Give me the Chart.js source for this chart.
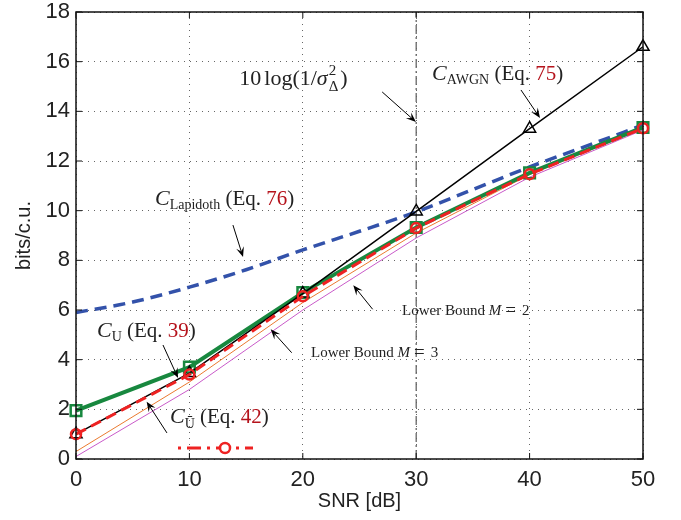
<!DOCTYPE html>
<html>
<head>
<meta charset="utf-8">
<script src="https://cdn.jsdelivr.net/npm/chart.js@4.4.0/dist/chart.umd.min.js"></script>
<style>
html, body { margin: 0; padding: 0; background: #fff; }
canvas { display: block; }
</style>
</head>
<body>
<canvas id="snrChart" width="681" height="520"></canvas>
<script>
// values
var snr = [0, 10, 20, 30, 40, 50];
var awgn = [1.0, 3.46, 6.66, 9.97, 13.3, 16.6];
var capU = [1.95, 3.7, 6.7, 9.32, 11.52, 13.35];
var capUbar = [1.0, 3.4, 6.55, 9.3, 11.47, 13.32];
var lowerM3 = [0.3, 3.1, 6.3, 9.1, 11.45, 13.3];
var lowerM2 = [0.1, 2.8, 6.0, 8.9, 11.35, 13.25];
var snrFine = [0, 5, 10, 15, 20, 25, 30, 35, 40, 45, 50];
var lapidoth = [5.9, 6.32, 6.92, 7.62, 8.42, 9.17, 9.95, 10.85, 11.76, 12.6, 13.45];
var markSnr = 30;
var xTicks = [0, 10, 20, 30, 40, 50];
var yTicks = [0, 2, 4, 6, 8, 10, 12, 14, 16, 18];

var SERIF = "'Liberation Serif', 'Times New Roman', serif";
var SANS = "'Liberation Sans', Arial, Helvetica, sans-serif";
var EQ = "#b5121b";

function pts(xs, ys) {
	return xs.map(function (x, i) { return { x: x, y: ys[i] }; });
}

// text labels with arrows, placed in data units
var notes = [
	{ at: [14.4, 15.05], from: [27.0, 14.78], to: [29.98, 13.57],
		parts: [{ t: "10", s: 22 }, { t: "log(1/", s: 22, pre: 3 }, { t: "σ", s: 22, i: 1 }, { t: "2", s: 15, dy: -10, pre: 1 }, { t: "Δ", s: 15, dy: 6, under: 1 }, { t: ")", s: 22, pre: 2 }] },
	{ at: [31.4, 15.26], from: [39.24, 14.86], to: [40.92, 13.73],
		parts: [{ t: "C", s: 22, i: 1 }, { t: "AWGN", s: 14, dy: 4 }, { t: " (Eq. ", s: 21 }, { t: "75", s: 21, c: EQ }, { t: ")", s: 21 }] },
	{ at: [6.97, 10.23], from: [13.84, 9.42], to: [14.73, 8.13],
		parts: [{ t: "C", s: 22, i: 1 }, { t: "Lapidoth", s: 14, dy: 4 }, { t: " (Eq. ", s: 21 }, { t: "76", s: 21, c: EQ }, { t: ")", s: 21 }] },
	{ at: [1.85, 4.91], from: [7.67, 4.59], to: [9.0, 3.26],
		parts: [{ t: "C", s: 22, i: 1 }, { t: "U", s: 14, dy: 4 }, { t: " (Eq. ", s: 21 }, { t: "39", s: 21, c: EQ }, { t: ")", s: 21 }] },
	{ at: [8.29, 1.45], from: [8.02, 1.05], to: [6.23, 2.31], sample: true,
		parts: [{ t: "C", s: 22, i: 1 }, { t: "Ū", s: 14, dy: 5 }, { t: " (Eq. ", s: 21 }, { t: "42", s: 21, c: EQ }, { t: ")", s: 21 }] },
	{ at: [28.75, 5.8], from: [26.16, 6.03], to: [24.45, 7.0],
		parts: [{ t: "Lower Bound ", s: 15 }, { t: "M", s: 15, i: 1 }, { t: "=", s: 19, pre: 4, dy: 1 }, { t: "2", s: 15, pre: 6 }] },
	{ at: [20.72, 4.11], from: [19.02, 4.28], to: [17.17, 5.22],
		parts: [{ t: "Lower Bound ", s: 15 }, { t: "M", s: 15, i: 1 }, { t: "=", s: 19, pre: 4, dy: 1 }, { t: "3", s: 15, pre: 6 }] }
];

function richText(ctx, x, y, parts) {
	var cx = x, stackX = x;
	ctx.textBaseline = "alphabetic";
	ctx.textAlign = "left";
	parts.forEach(function (p) {
		ctx.font = (p.i ? "italic " : "") + p.s + "px " + SERIF;
		ctx.fillStyle = p.c || "#222";
		cx += p.pre || 0;
		var sx = p.under ? stackX : cx;
		ctx.fillText(p.t, sx, y + (p.dy || 0));
		var w = ctx.measureText(p.t).width;
		if (p.under) cx = Math.max(cx, sx + w);
		else { stackX = cx; cx += w; }
	});
}

function arrow(ctx, x0, y0, x1, y1) {
	var a = Math.atan2(y1 - y0, x1 - x0), L = 10, W = 4;
	ctx.strokeStyle = "#000";
	ctx.fillStyle = "#000";
	ctx.lineWidth = 1;
	ctx.beginPath();
	ctx.moveTo(x0, y0);
	ctx.lineTo(x1 - Math.cos(a) * L * 0.6, y1 - Math.sin(a) * L * 0.6);
	ctx.stroke();
	ctx.beginPath();
	ctx.moveTo(x1, y1);
	ctx.lineTo(x1 - Math.cos(a) * L - Math.sin(a) * W, y1 - Math.sin(a) * L + Math.cos(a) * W);
	ctx.lineTo(x1 - Math.cos(a) * L * 0.6, y1 - Math.sin(a) * L * 0.6);
	ctx.lineTo(x1 - Math.cos(a) * L + Math.sin(a) * W, y1 - Math.sin(a) * L - Math.cos(a) * W);
	ctx.closePath();
	ctx.fill();
}

var framePlugin = {
	id: "frame",
	afterDatasetsDraw: function (chart) {
		var ctx = chart.ctx, a = chart.chartArea, xs = chart.scales.x, ys = chart.scales.y;
		ctx.save();
		ctx.setLineDash([]);
		ctx.strokeStyle = "#111";
		ctx.lineWidth = 1.5;
		ctx.strokeRect(a.left, a.top, a.right - a.left, a.bottom - a.top);
		ctx.lineWidth = 1;
		ctx.beginPath();
		xTicks.forEach(function (v) {
			var p = xs.getPixelForValue(v);
			ctx.moveTo(p, a.bottom); ctx.lineTo(p, a.bottom - 6);
			ctx.moveTo(p, a.top); ctx.lineTo(p, a.top + 6);
		});
		yTicks.forEach(function (v) {
			var p = ys.getPixelForValue(v);
			ctx.moveTo(a.left, p); ctx.lineTo(a.left + 6, p);
			ctx.moveTo(a.right, p); ctx.lineTo(a.right - 6, p);
		});
		ctx.stroke();

		notes.forEach(function (n) {
			var tx = xs.getPixelForValue(n.at[0]), ty = ys.getPixelForValue(n.at[1]);
			richText(ctx, tx, ty, n.parts);
			arrow(ctx, xs.getPixelForValue(n.from[0]), ys.getPixelForValue(n.from[1]),
				xs.getPixelForValue(n.to[0]), ys.getPixelForValue(n.to[1]));
			if (n.sample) {
				// legend sample for the dashed red curve
				var y = ty + 25, x0 = tx + 8, x1 = tx + 83;
				ctx.strokeStyle = "#ee2222";
				ctx.lineWidth = 3;
				ctx.setLineDash([3, 6, 14, 6]);
				ctx.beginPath(); ctx.moveTo(x0, y); ctx.lineTo(x1, y); ctx.stroke();
				ctx.setLineDash([]);
				ctx.fillStyle = "#fff";
				ctx.lineWidth = 2.5;
				ctx.beginPath(); ctx.arc(tx + 55, y, 5, 0, Math.PI * 2); ctx.fill(); ctx.stroke();
			}
		});
		ctx.restore();
	}
};

new Chart(document.getElementById("snrChart"), {
	type: "line",
	data: {
		datasets: [
			{
				label: "Lower Bound M = 2",
				data: pts(snr, lowerM2),
				borderColor: "#c95ac9",
				borderWidth: 1,
				pointRadius: 0,
				order: 6,
			},
			{
				label: "Lower Bound M = 3",
				data: pts(snr, lowerM3),
				borderColor: "#ea7a30",
				borderWidth: 1,
				pointRadius: 0,
				order: 5,
			},
			{
				label: "10 log(1/sigma^2)",
				data: [{ x: markSnr, y: 0 }, { x: markSnr, y: 18 }],
				borderColor: "#666",
				borderWidth: 1.3,
				borderDash: [9, 3, 2, 3],
				pointRadius: 0,
				order: 7,
			},
			{
				label: "C Lapidoth",
				data: pts(snrFine, lapidoth),
				borderColor: "#3352aa",
				borderWidth: 3.5,
				borderDash: [12, 7],
				cubicInterpolationMode: "monotone",
				pointRadius: 0,
				order: 4,
			},
			{
				label: "C U",
				data: pts(snr, capU),
				borderColor: "#18883f",
				borderWidth: 4,
				pointStyle: "rect",
				pointRadius: 7.5,
				pointBorderWidth: 2.5,
				pointBorderColor: "#18883f",
				pointBackgroundColor: "rgba(255,255,255,0)",
				order: 3,
				clip: false,
			},
			{
				label: "C AWGN",
				data: pts(snr, awgn),
				borderColor: "#000",
				borderWidth: 1.5,
				pointStyle: "triangle",
				pointRadius: 7,
				pointBorderWidth: 1.5,
				pointBorderColor: "#000",
				pointBackgroundColor: "rgba(255,255,255,0)",
				order: 2,
				clip: false,
			},
			{
				label: "C Ubar",
				data: pts(snr, capUbar),
				borderColor: "#ee2222",
				borderWidth: 3,
				borderDash: [11, 6],
				pointStyle: "circle",
				pointRadius: 5,
				pointBorderWidth: 2.5,
				pointBorderColor: "#ee2222",
				pointBackgroundColor: "rgba(255,255,255,0)",
				order: 1,
				clip: false,
			},
		],
	},
	options: {
		responsive: false,
		animation: false,
		devicePixelRatio: 1,
		layout: { padding: { top: 12, right: 38, left: 0, bottom: 0 } },
		plugins: { legend: { display: false }, tooltip: { enabled: false } },
		scales: {
			x: {
				type: "linear",
				min: 0,
				max: 50,
				afterFit: function (s) { s.height = 61; s.paddingLeft = 0; s.paddingRight = 0; },
				afterBuildTicks: function (s) { s.ticks = xTicks.map(function (v) { return { value: v }; }); },
				ticks: { font: { family: SANS, size: 22, lineHeight: 1 }, color: "#222", padding: 10, maxRotation: 0 },
				grid: { color: "#666", lineWidth: 1, drawTicks: false },
				border: { display: false, dash: [1, 5] },
				title: { display: true, text: "SNR [dB]", font: { family: SANS, size: 20 }, color: "#222", padding: { top: 0, bottom: 7 } },
			},
			y: {
				type: "linear",
				min: 0,
				max: 18,
				afterFit: function (s) { s.width = 76; s.paddingTop = 0; s.paddingBottom = 0; },
				afterBuildTicks: function (s) { s.ticks = yTicks.map(function (v) { return { value: v }; }); },
				ticks: { font: { family: SANS, size: 22, lineHeight: 1 }, color: "#222", padding: 6 },
				grid: { color: "#666", lineWidth: 1, drawTicks: false },
				border: { display: false, dash: [1, 5] },
				title: { display: true, text: "bits/c.u.", font: { family: SANS, size: 20 }, color: "#222", padding: { top: 12, bottom: 0 } },
			},
		},
	},
	plugins: [framePlugin],
});
</script>
</body>
</html>
